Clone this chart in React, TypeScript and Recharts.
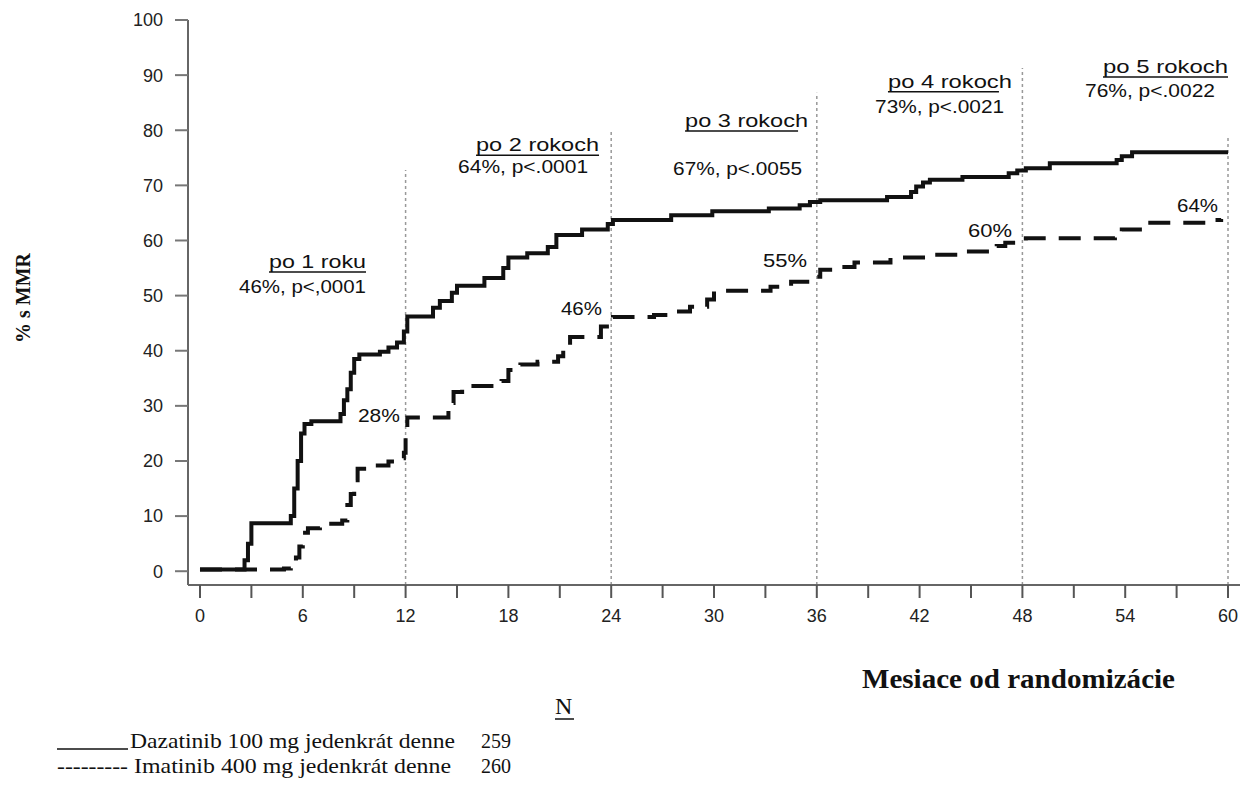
import React from 'react';
import { LineChart, Line, XAxis, YAxis, ReferenceLine, ReferenceDot } from 'recharts';

// Dasatinib 100 mg - cumulative MMR (%), step curve
const dasatinibMonths = [
  0, 2.6, 2.8, 3.0, 5.3, 5.5, 5.7, 5.9, 6.1, 6.5, 8.2, 8.4, 8.6, 8.8, 9.0, 9.3, 10.5, 11.0, 11.5, 11.9,
  12.1, 13.6, 14.0, 14.7, 15.0, 16.6, 17.7, 18.0, 19.1, 20.3, 20.8, 22.3, 23.8, 24.1, 27.5, 29.9, 33.2,
  35.0, 35.6, 36.2, 40.1, 41.5, 41.8, 42.2, 42.6, 44.5, 47.2, 47.7, 48.2, 49.6, 53.5, 53.8, 54.4, 60,
];
const dasatinibPct = [
  0.3, 2, 5, 8.7, 10, 15, 20, 25, 26.7, 27.2, 28.5, 31, 33, 36, 38.5, 39.3, 39.8, 40.6, 41.5, 43.5,
  46.2, 47.8, 49, 50.5, 51.8, 53.2, 55, 56.9, 57.7, 58.8, 61, 62, 63, 63.7, 64.6, 65.3, 65.8,
  66.4, 67, 67.3, 67.9, 68.8, 69.8, 70.5, 71, 71.5, 72.2, 72.7, 73.1, 74, 74.6, 75.3, 76, 76,
];

// Imatinib 400 mg
const imatinibMonths = [
  0, 4.9, 5.3, 5.6, 5.8, 6.0, 6.3, 7.0, 8.3, 8.6, 8.8, 9.0, 9.2, 10.0, 11.0, 11.5, 11.9, 12.0, 12.1,
  14.5, 14.8, 15.3, 17.6, 18.0, 18.7, 19.7, 20.9, 21.2, 21.6, 23.4, 23.9, 24.1, 26.5, 27.4, 28.6, 29.6,
  30.0, 33.3, 34.5, 35.6, 36.2, 37.2, 38.2, 40.3, 42.2, 44.4, 46.5, 47.0, 48.2, 53.4, 53.8, 55.0, 58.9, 59.6,
];
const imatinibPct = [
  0.3, 0.5, 1.5, 2.5, 4.5, 7, 7.8, 8.6, 9.2, 12, 14, 16.5, 18.6, 19.2, 19.9, 20.5, 21.5, 24.5, 27.9,
  30.5, 32.5, 33.6, 34.5, 36.5, 37.5, 38, 39, 41, 42.5, 44.4, 45.3, 46.1, 46.5, 47.1, 48, 49.3,
  50.9, 51.6, 52.5, 53.4, 54.7, 55.2, 56, 56.9, 57.4, 58, 59, 59.6, 60.4, 61.2, 62, 63.2, 63.7, 63.9,
];

const xTicks = [0, 3, 6, 9, 12, 15, 18, 21, 24, 27, 30, 33, 36, 39, 42, 45, 48, 51, 54, 57, 60];
const yTicks = [0, 10, 20, 30, 40, 50, 60, 70, 80, 90, 100];

const milestoneMonths = [12, 24, 36, 48, 60];
const milestoneTops = [72.8, 80, 86.8, 91.3, 78.6];

// annotation texts, anchored by their right edge (month) and baseline (%)
const annotations = [
  { text: 'po 1 roku', x: 9.69, y: 55.0, w: 97, u: 97 },
  { text: '46%, p<,0001', x: 9.69, y: 50.5, w: 127, u: 0 },
  { text: 'po 2 rokoch', x: 23.29, y: 76.2, w: 123, u: 123 },
  { text: '64%, p<.0001', x: 22.65, y: 72.2, w: 130, u: 0 },
  { text: 'po 3 rokoch', x: 35.49, y: 80.6, w: 123, u: 113 },
  { text: '67%, p<.0055', x: 35.14, y: 71.9, w: 129, u: 0 },
  { text: 'po 4 rokoch', x: 47.39, y: 87.7, w: 124, u: 111 },
  { text: '73%, p<.0021', x: 46.93, y: 83.1, w: 129, u: 0 },
  { text: 'po 5 rokoch', x: 60.0, y: 90.4, w: 125, u: 125 },
  { text: '76%, p<.0022', x: 59.24, y: 86.0, w: 130, u: 0 },
  { text: '28%', x: 11.67, y: 27.0, w: 42, u: 0 },
  { text: '46%', x: 23.46, y: 46.5, w: 41, u: 0 },
  { text: '55%', x: 35.43, y: 55.2, w: 44, u: 0 },
  { text: '60%', x: 47.39, y: 60.6, w: 44, u: 0 },
  { text: '64%', x: 59.42, y: 65.2, w: 41, u: 0 },
];

const dasatinib = dasatinibMonths.map((m, i) => ({ month: m, pct: dasatinibPct[i] }));
const imatinib = imatinibMonths.map((m, i) => ({ month: m, pct: imatinibPct[i] }));

const sans = '"Liberation Sans", Arial, sans-serif';
const serif = '"Liberation Serif", "Times New Roman", serif';

const makeLabel = (a: { text: string; w: number; u: number }) => (props: any) => {
  const vb = props.viewBox || {};
  const x = (vb.x || 0) + (vb.width || 0) / 2;
  const y = (vb.y || 0) + (vb.height || 0) / 2;
  const left = x - a.w;
  return (
    <g>
      <text
        x={left}
        y={y}
        textLength={a.w}
        lengthAdjust="spacingAndGlyphs"
        fontFamily={sans}
        fontSize={19}
        fill="#111"
      >
        {a.text}
      </text>
      {a.u > 0 && <line x1={left} x2={left + a.u} y1={y + 4} y2={y + 4} stroke="#111" strokeWidth={1.5} />}
    </g>
  );
};

export default function App() {
  return (
    <div style={{ position: 'absolute', left: 0, top: 0, width: 1253, height: 801, background: '#fff' }}>
      <LineChart
        width={1253}
        height={801}
        margin={{ top: 20, right: 13, left: 128, bottom: 176 }}
      >
        <XAxis
          type="number"
          dataKey="month"
          domain={[-0.7, 60.7]}
          ticks={xTicks}
          interval={0}
          allowDataOverflow
          tickFormatter={(v: number) => (v % 6 === 0 ? String(v) : '')}
          height={40}
          tickSize={13}
          tickMargin={11}
          axisLine={{ stroke: '#666', strokeWidth: 2 }}
          tickLine={{ stroke: '#555', strokeWidth: 2 }}
          tick={{ fill: '#222', fontSize: 18, fontFamily: sans }}
        />
        <YAxis
          type="number"
          domain={[-2.5, 100]}
          ticks={yTicks}
          interval={0}
          allowDataOverflow
          width={60}
          tickSize={13}
          tickMargin={12}
          axisLine={{ stroke: '#666', strokeWidth: 2 }}
          tickLine={{ stroke: '#777', strokeWidth: 2 }}
          tick={{ fill: '#222', fontSize: 18, fontFamily: sans }}
        />
        {milestoneMonths.map((m, i) => (
          <ReferenceLine
            key={m}
            segment={[{ x: m, y: -2.5 }, { x: m, y: milestoneTops[i] }]}
            stroke="#999"
            strokeWidth={1.5}
            strokeDasharray="3 3"
          />
        ))}
        <Line
          data={imatinib}
          dataKey="pct"
          type="stepAfter"
          stroke="#111"
          strokeWidth={4}
          strokeDasharray="22 13"
          dot={false}
          activeDot={false}
          isAnimationActive={false}
        />
        <Line
          data={dasatinib}
          dataKey="pct"
          type="stepAfter"
          stroke="#111"
          strokeWidth={4}
          dot={false}
          activeDot={false}
          isAnimationActive={false}
        />
        {annotations.map((a, i) => (
          <ReferenceDot
            key={i}
            x={a.x}
            y={a.y}
            r={0}
            fill="none"
            stroke="none"
            label={makeLabel(a)}
          />
        ))}
      </LineChart>
      <svg
        width={1253}
        height={801}
        style={{ position: 'absolute', left: 0, top: 0, pointerEvents: 'none' }}
      >
        <text
          transform="translate(30 298) rotate(-90)"
          textAnchor="middle"
          fontFamily={serif}
          fontWeight="bold"
          fontSize={20}
          fill="#111"
        >
          % s MMR
        </text>
        <text
          x={862}
          y={688}
          textLength={313}
          lengthAdjust="spacingAndGlyphs"
          fontFamily={serif}
          fontWeight="bold"
          fontSize={27}
          fill="#111"
        >
          Mesiace od randomizácie
        </text>
        <text x={555} y={714} fontFamily={serif} fontSize={24} fill="#111">N</text>
        <line x1={555} x2={574} y1={719} y2={719} stroke="#111" strokeWidth={1.5} />
        <line x1={57} x2={128} y1={749} y2={749} stroke="#111" strokeWidth={1.5} />
        <text
          x={130}
          y={748}
          textLength={325}
          lengthAdjust="spacingAndGlyphs"
          fontFamily={serif}
          fontSize={21}
          fill="#111"
        >
          Dazatinib 100 mg jedenkrát denne
        </text>
        <text x={481} y={748} textLength={30} lengthAdjust="spacingAndGlyphs" fontFamily={serif} fontSize={21} fill="#111">
          259
        </text>
        <text
          x={57}
          y={773}
          textLength={71}
          lengthAdjust="spacingAndGlyphs"
          fontFamily={serif}
          fontSize={21}
          fill="#111"
        >
          ---------
        </text>
        <text
          x={134}
          y={773}
          textLength={317}
          lengthAdjust="spacingAndGlyphs"
          fontFamily={serif}
          fontSize={21}
          fill="#111"
        >
          Imatinib 400 mg jedenkrát denne
        </text>
        <text x={481} y={773} textLength={30} lengthAdjust="spacingAndGlyphs" fontFamily={serif} fontSize={21} fill="#111">
          260
        </text>
      </svg>
    </div>
  );
}
